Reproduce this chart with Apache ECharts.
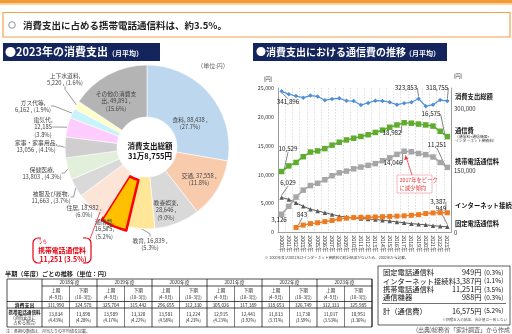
<!DOCTYPE html>
<html><head><meta charset="utf-8">
<script src="https://cdn.jsdelivr.net/npm/echarts@6/dist/echarts.min.js"></script>
<style>html,body{margin:0;padding:0;background:#fff}#c{width:512px;height:334px}</style>
</head><body><div id="c"></div>
<script>
// ---------- DATA ----------
const years = ['2000年','2001年','2002年','2003年','2004年','2005年','2006年','2007年','2008年','2009年','2010年','2011年','2012年','2013年','2014年','2015年','2016年','2017年','2018年','2019年','2020年','2021年','2022年','2023年'];
const totalSpending = [341896,335042,330651,326566,331636,329499,320231,323459,324929,319060,318315,308838,313874,319170,318755,315379,309591,313057,315314,323853,305811,309469,320627,318755];
const commFee =   [10529,11500,12100,13100,13900,14100,14500,15100,15600,16000,16300,16600,16900,17300,17700,18200,18600,18982,18900,18750,18600,18400,17500,16575];
const mobileFee = [3126,4500,6100,7300,8100,8500,9100,9800,10300,10600,11000,11300,11600,11900,12400,12900,13500,14046,13950,13650,13450,13050,12100,11251];
const internetFee = [null,null,843,1250,1500,1650,1850,2050,2300,2450,2550,2600,2600,2650,2700,2750,2800,2850,2950,3050,3250,3350,3400,3387];
const fixedFee =  [6029,5700,5100,4500,4000,3700,3400,3100,2800,2650,2500,2400,2300,2200,2100,1950,1800,1650,1500,1400,1300,1150,1050,949];
const seriesNames = ['消費支出総額','通信費','携帯電話通信料','インターネット接続料','固定電話通信料'];

const pieNames = ['食料','交通','教養娯楽','教育','通信費','住居','被服及び履物','保健医療','家事・家事用品','電気代','ガス代等','上下水道料','その他の消費支出'];
const pieValues = [88438,37558,28646,16839,16575,18982,11663,13803,13056,12185,6162,5220,49891];
const totalLabel = '31万8,755円';

const tableYears = ['2018年度','2019年度','2020年度','2021年度','2022年度','2023年度'];
const halfNames = ['上期','下期'];
const halfMonths = ['(4~9月)','(10~3月)'];
const halfSpending = [311990,324578,325704,315442,296655,312330,305026,317389,318653,326749,312333,325985];
const halfMobile = [13834,13898,13589,13320,13581,13224,12915,12441,11833,11730,11017,10951];
const halfShare = ['4.43%','4.28%','4.17%','4.22%','4.58%','4.23%','4.23%','3.92%','3.71%','3.59%','3.53%','3.36%'];

const breakdownNames = ['固定電話通信料','インターネット接続料','携帯電話通信料','通信機器'];
const breakdownValues = [949,3387,11251,988];
const breakdownShares = ['0.3%','1.1%','3.5%','0.3%'];
const breakdownTotal = 16575, breakdownTotalShare = '5.2%';

// ---------- STYLE ----------
const FF = '"Noto Sans CJK JP", "Noto Sans", sans-serif';
const fmt = v => Number(v).toLocaleString('en-US');
const pieColors = ['#bdd7ee','#f8cbad','#d9d9d9','#ffe699','#ffc000','#fce4d6','#d9d9d9','#e2efda','#d0cece','#ffccff','#c9f3fb','#ffffcc','#b4b4b4'];
const pieLabelPos = [[190,123],[199,179],[166,210],[150,244],[108,238],[84,211],[51,197],[42,173],[36,146],[43,127],[33,106],[65,79],[116,101]];
const pieInside = [true,true,true,false,false,false,false,false,false,false,false,false,true];
const pieTpl = ['a','a','b','a','c','a','d','d','d','e','d','d','f'];
function pieText(i, v, p){
  const n = pieNames[i], vs = fmt(v), ps = '(' + p.toFixed(1) + '%)';
  switch(pieTpl[i]){
    case 'a': return n + ', ' + vs + ' ,\n' + ps;
    case 'b': return n + ',\n' + vs + ' ,\n' + ps;
    case 'c': return n + ',\n' + vs + ',\n' + ps;
    case 'd': return n + ',\n' + vs + ' , ' + ps;
    case 'e': return n + ',\n' + vs + '\n' + ps;
    default: return n.slice(0,7) + '\n' + n.slice(7) + ', ' + vs + ' ,\n' + ps;
  }
}
const lineColors = ['#4f8fd6','#5fad2f','#a6a6a6','#ee7b1f','#595959'];
const lineSymbols = ['diamond','rect','rect','rect','triangle'];
const lineSymbolSize = [4.5,5.5,5.5,5,4.5];
const lineWidths = [1.2,1.6,1.6,1.4,1];
const lineLabelPos = [
  {0:[288,102],19:[406,88],23:[437,88]},
  {0:[288,149],17:[392,133],23:[431,114]},
  {0:[279,220],17:[393,163],23:[437,145]},
  {2:[302,215],23:[438,202]},
  {0:[288,183],23:[441,209]}
];

// ---------- GRAPHIC HELPERS ----------
const G = [];
function T(x, y, text, o){ o = o || {};
  G.push({type:'text', x:x, y:y, z:o.z||5, silent:true, style:{text:text, fill:o.c||'#333', fontSize:o.s||6, fontWeight:o.b?'bold':'normal', fontFamily:FF, textAlign:o.a||'left', textVerticalAlign:o.v||'middle', lineHeight:o.lh}});
}
function R(x, y, w, h, o){ o = o || {};
  G.push({type:'rect', z:o.z||1, silent:true, shape:{x:x,y:y,width:w,height:h,r:o.r||0}, style:{fill:o.fill||'none', stroke:o.stroke||null, lineWidth:o.lw||1}});
}
function L(x1, y1, x2, y2, o){ o = o || {};
  G.push({type:'line', z:o.z||3, silent:true, shape:{x1:x1,y1:y1,x2:x2,y2:y2}, style:{stroke:o.c||'#000', lineWidth:o.lw||0.7}});
}

// top bar & title
R(0,0,512,3.5,{fill:'#f29a35'});
R(0,3.5,512,1.5,{fill:'#fbd3a5'});
R(3,12.5,507,24.5,{fill:'#fff',stroke:'#f4a24c',lw:1.2});
G.push({type:'circle', z:5, silent:true, shape:{cx:12,cy:25,r:3.3}, style:{fill:'none',stroke:'#777',lineWidth:0.8}});
T(23,25,'消費支出に占める携帯電話通信料は、約3.5%。',{s:9.5,b:true,c:'#222'});

// headings
R(3,43,157,18,{fill:'#14245c'});
T(5,52,'●2023年の消費支出',{s:11,b:true,c:'#fff'});
T(108,53,'（月平均）',{s:7,b:true,c:'#fff'});
R(253,43,194,18,{fill:'#14245c'});
T(256,52,'●消費支出における通信費の推移',{s:10,b:true,c:'#fff'});
T(405,53,'（月平均）',{s:7,b:true,c:'#fff'});

T(213,66,'（単位:円）',{s:6,c:'#666',a:'center'});
// pie center
T(150,151,'消費支出総額\n' + totalLabel,{s:7.5,b:true,c:'#111',a:'center',lh:9.5,z:10});

// mobile callout bracket
R(33,238,58,25,{stroke:'#e60012',lw:1.2,r:5,z:4});
R(41,235.5,42,5,{fill:'#fff',z:5});
R(41,260.5,42,5,{fill:'#fff',z:5});
L(90,239,100,212,{c:'#e60012',lw:0.7,z:6});
T(38,241.5,'うち',{s:4.5,c:'#e60012',z:7});
T(62,250,'携帯電話通信料',{s:6.8,b:true,c:'#e60012',a:'center',z:7});
T(63,259,fmt(breakdownValues[2]) + ' (' + breakdownShares[2] + ')',{s:7,b:true,c:'#e60012',a:'center',z:7});

// right chart extras
T(268,79,'(円)',{s:5.5,c:'#444',a:'center'});
T(458,76,'(円)',{s:5.5,c:'#444',a:'center'});
T(455,97,'消費支出総額',{s:6.3,b:true,c:'#111'});
T(455,131,'通信費',{s:6.3,b:true,c:'#111'});
T(455,136.5,'（通信料+通信機器+',{s:3.8,c:'#333'});
T(455,140.5,'インターネット接続料）',{s:3.8,c:'#333'});
T(455,162,'携帯電話通信料',{s:6.3,b:true,c:'#111'});
T(455,206,'インターネット接続料',{s:6.3,b:true,c:'#111'});
T(455,224,'固定電話通信料',{s:6.3,b:true,c:'#111'});
T(265,258,'※ 2000年及び2001年はインターネット接続料の統計結果がないため、2002年から記載。',{s:3.6,c:'#444'});
// annotation
R(397,175,35,18,{fill:'#fff',stroke:'#f2a7b3',lw:0.8,z:10});
T(399.5,180,'2017年をピーク',{s:5.3,c:'#e8383d',z:11});
T(399.5,188,'に減少傾向',{s:5.3,c:'#e8383d',z:11});
L(412,175,406.5,158,{c:'#e8383d',lw:0.8,z:11});
G.push({type:'polygon', z:11, silent:true, shape:{points:[[405.5,155],[404.2,160],[408.2,159]]}, style:{fill:'#e8383d'}});

// half-year table
T(5,274,'半期（年度）ごとの推移（単位：円）',{s:6.2,b:true,c:'#222'});
const tx0 = 7, lw0 = 35, cw = 27.5, ry = [279,286,301.5,308,327];
const tx1 = tx0 + lw0 + cw*12;
R(tx0, ry[0], tx1-tx0, ry[4]-ry[0], {stroke:'#222', lw:0.8, fill:'#fff', z:2});
L(tx0+lw0, ry[1], tx1, ry[1]);
L(tx0, ry[2], tx1, ry[2]);
L(tx0, ry[3], tx1, ry[3]);
for (let k = 0; k <= 12; k++){
  const x = tx0 + lw0 + cw*k;
  if (k % 2 === 0) L(x, ry[0], x, ry[4]); else L(x, ry[1], x, ry[4], {lw:0.5});
}
tableYears.forEach((y,i)=>T(tx0+lw0+cw*(2*i+1), (ry[0]+ry[1])/2, y, {s:4.8,a:'center',c:'#222'}));
for (let k = 0; k < 12; k++){
  const cx = tx0 + lw0 + cw*(k+0.5);
  T(cx, 290.5, halfNames[k%2], {s:4.6,a:'center',c:'#222'});
  T(cx, 297, halfMonths[k%2], {s:4.3,a:'center',c:'#222'});
  T(cx, (ry[2]+ry[3])/2, fmt(halfSpending[k]), {s:4.6,a:'center',c:'#222'});
  T(cx, 314, fmt(halfMobile[k]), {s:4.6,a:'center',c:'#222'});
  T(cx, 320.5, '(' + halfShare[k] + ')', {s:4.3,a:'center',c:'#222'});
}
T(tx0+lw0/2, (ry[2]+ry[3])/2, '消費支出', {s:5,b:true,a:'center',c:'#111'});
T(tx0+lw0/2, 312, '携帯電話通信料', {s:4.6,b:true,a:'center',c:'#111'});
T(tx0+lw0/2, 317.8, '(消費支出に', {s:4.2,a:'center',c:'#333'});
T(tx0+lw0/2, 322.6, '占める割合)', {s:4.2,a:'center',c:'#333'});
T(6,331,'注：各期の数値は、月当たりの平均値を記載。',{s:4,c:'#444'});

// breakdown box
R(378,266,132,59,{stroke:'#333',lw:0.8,fill:'#fff',z:2});
const by = [272.5,281,289.5,297.5];
breakdownNames.forEach((n,i)=>{
  T(383, by[i], n, {s:7.3,c:'#111'});
  T(481.5, by[i], fmt(breakdownValues[i]) + '円', {s:7.3,c:'#111',a:'right'});
  T(484, by[i], '(' + breakdownShares[i] + ')', {s:6.5,c:'#111'});
});
L(382,303.5,506,303.5,{c:'#333',lw:0.7});
T(383,311,'計（通信費）',{s:7.3,c:'#111'});
T(481.5,311,fmt(breakdownTotal) + '円',{s:7.3,c:'#111',a:'right'});
T(484,311,'(' + breakdownTotalShare + ')',{s:6.5,c:'#111'});
T(507,319.5,'※四捨五入の結果、合計値は一致しない',{s:3.6,c:'#555',a:'right'});
T(510,329.5,'(出典)総務省「家計調査」から作成',{s:6,c:'#555',a:'right'});

// ---------- SERIES ----------
const lineData = [totalSpending, commFee, mobileFee, internetFee, fixedFee];
const lineSeries = lineData.map((arr, s) => ({
  type:'line', name:seriesNames[s], yAxisIndex: s === 0 ? 1 : 0,
  symbol: lineSymbols[s], symbolSize: lineSymbolSize[s], z: 3 + (5 - s),
  lineStyle:{color:lineColors[s], width:lineWidths[s]},
  itemStyle:{color:lineColors[s]},
  connectNulls:false,
  data: arr.map((v,i) => lineLabelPos[s][i] ? {value:v, label:{show:true}} : v),
  label:{show:false, formatter: p => fmt(p.value), fontSize:6.3, color:'#222', fontFamily:FF},
  labelLine:{show:true, lineStyle:{color:'#333', width:0.6}},
  labelLayout: p => { const q = lineLabelPos[s][p.dataIndex]; return q ? {x:q[0], y:q[1], align:'center', verticalAlign:'middle'} : {}; },
  emphasis:{disabled:true}, animation:false
}));

const pieSeries = {
  type:'pie', center:[147,147], radius:[30,82], startAngle:90, clockwise:true,
  avoidLabelOverlap:false, selectedMode:'single', selectedOffset:4, animation:false,
  emphasis:{disabled:true}, percentPrecision:1,
  data: pieNames.map((n,i)=>{
    const d = {name:n, value:pieValues[i], itemStyle:{color:pieColors[i], borderColor:'#fff', borderWidth:0.6}};
    if (pieInside[i]) { d.label = {position:'inside'}; d.labelLine = {show:false}; }
    if (i === 4) { d.selected = true; d.itemStyle = {color:pieColors[i], borderColor:'#ff0000', borderWidth:2.5}; }
    return d;
  }),
  label:{show:true, position:'outside', fontSize:5.8, lineHeight:7.3, color:'#444', fontFamily:FF, align:'center',
    formatter: p => pieText(p.dataIndex, p.value, p.percent)},
  labelLine:{show:true, length:3, length2:3, lineStyle:{color:'#555', width:0.6}},
  labelLayout: p => { const q = pieLabelPos[p.dataIndex]; return {x:q[0], y:q[1], align:'center', verticalAlign:'middle'}; },
  z: 2
};

const chart = echarts.init(document.getElementById('c'), null, {renderer:'canvas', width:512, height:334});
chart.setOption({
  backgroundColor:'#fff', animation:false,
  textStyle:{fontFamily:FF},
  grid:{left:278, top:88, width:173, height:144.3, containLabel:false},
  xAxis:{type:'category', data:years, boundaryGap:true,
    axisLine:{lineStyle:{color:'#888', width:0.8}}, axisTick:{show:false},
    axisLabel:{rotate:-90, fontSize:5.3, margin:3, interval:0, color:'#333'},
    splitLine:{show:true, lineStyle:{color:'#c8c8c8', type:[1.5,1.5], width:0.6}}},
  yAxis:[
    {type:'value', min:0, max:25000, interval:5000, axisLine:{show:true, lineStyle:{color:'#888', width:0.8}},
     axisTick:{show:false}, splitLine:{show:false}, axisLabel:{fontSize:5.3, margin:4, color:'#333', formatter:v=>fmt(v)}},
    {type:'value', min:0, max:350000, interval:150000, position:'right', axisLine:{show:true, lineStyle:{color:'#888', width:0.8}},
     axisTick:{show:false}, splitLine:{show:false}, axisLabel:{fontSize:6, margin:3, color:'#333', formatter:v=> v % 150000 === 0 ? fmt(v) : ''}}
  ],
  graphic: G,
  series: [pieSeries].concat(lineSeries)
});
</script></body></html>
